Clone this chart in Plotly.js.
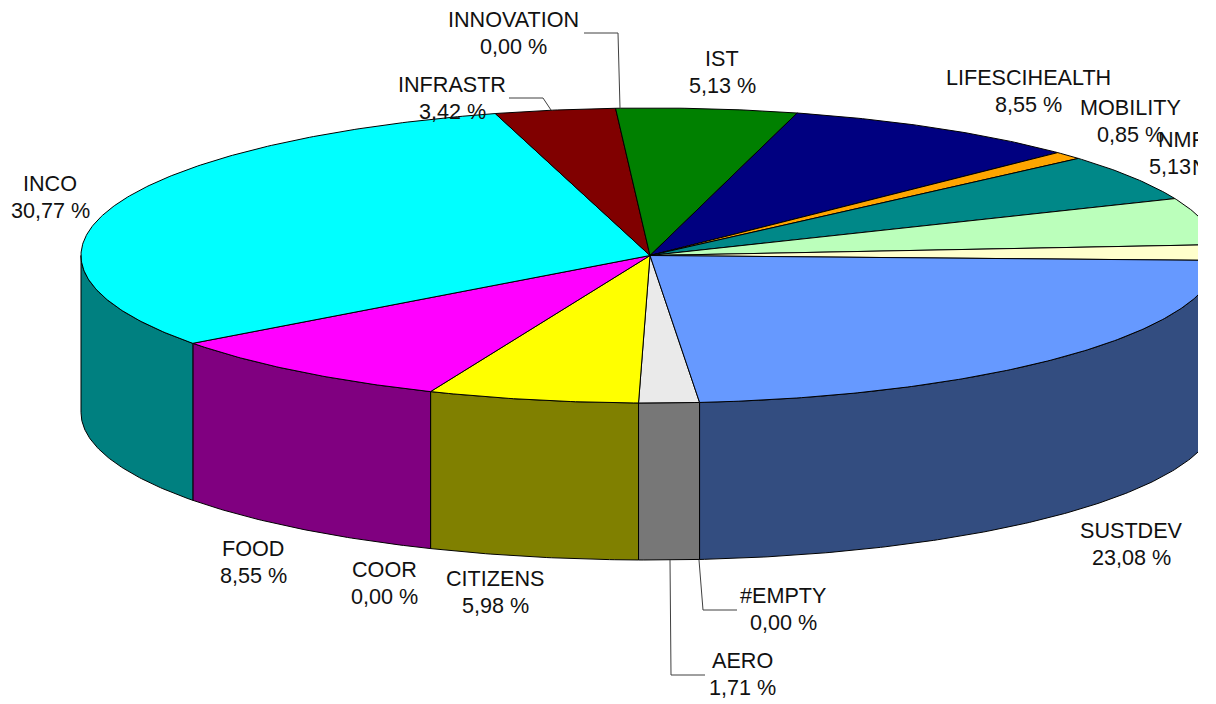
<!DOCTYPE html>
<html>
<head>
<meta charset="utf-8">
<script src="https://cdn.plot.ly/plotly-3.0.1.min.js"></script>
<style>html,body{margin:0;padding:0;background:#fff}#chart{width:1198px;height:704px;overflow:hidden}</style>
</head>
<body>
<div id="chart"></div>
<script>
// Data (order as drawn, clockwise)
const categories = ['#EMPTY','AERO','CITIZENS','COOR','FOOD','INCO','INFRASTR','INNOVATION','IST','LIFESCIHEALTH','MOBILITY','NMP','N','','SUSTDEV'];
const values = [0,1.71,5.98,0,8.55,30.77,3.42,0,5.13,8.55,0.85,5.13,5.13,1.71,23.08];
const valueLabels = ['0,00 %','1,71 %','5,98 %','0,00 %','8,55 %','30,77 %','3,42 %','0,00 %','5,13 %','8,55 %','0,85 %','5,13 %','','','23,08 %'];
const topColors = ['#eaeaea','#eaeaea','#ffff00','#ff00ff','#ff00ff','#00ffff','#800000','#800000','#008000','#000080','#ffa500','#008888','#bbffbb','#ffffcc','#6699ff'];
const sideColors = ['#777777','#777777','#808000','#800080','#800080','#008080','#400000','#400000','#004000','#000040','#805300','#004444','#5e805e','#808066','#334d80'];

// Label placement (block centre, pixels)
const labelX = [783,742,495,384,253,50,452,513,722,1028,1130,1182,1192,null,1131];
const labelY = [609,674,592,583,562,197,98,33,72,91,121,153,167,null,544];

// Leader lines
const leaderX = [[699,703,737],[670,671,705],[584,618,620],[509,543,551]];
const leaderY = [[560,610,610],[560,675,675],[33,33,108],[98,98,110]];

// Pie geometry
const cx = 650, cy = 255.5, rx = 569, ry = 147.5, depth = 157, startDeg = 175;
const lineGap = 27;
const total = values.reduce((a,b)=>a+b,0);
const rad = d => d*Math.PI/180;
const px = d => cx + rx*Math.sin(rad(d));
const py = d => cy - ry*Math.cos(rad(d));

function arc(a,b){ const n=Math.max(2,Math.ceil(Math.abs(b-a)*2)); const out=[]; for(let i=0;i<=n;i++){out.push(a+(b-a)*i/n);} return out; }

const sideTraces = [], topTraces = [];
let ang = startDeg;
values.forEach((v,i)=>{
  if(v<=0) return;
  const a = ang, b = ang + v/total*360;
  ang = b;
  const outline = {color:'#000',width:1};
  const t = arc(a,b);
  topTraces.push({type:'scatter',mode:'lines',fill:'toself',fillcolor:topColors[i],line:outline,hoverinfo:'skip',
    x:[cx].concat(t.map(px),[cx]), y:[cy].concat(t.map(py),[cy])});
  // side wall: the part of the rim on the near half (90..270 deg)
  const ranges=[[a,b],[a+360,b+360],[a-360,b-360]];
  ranges.forEach(r=>{
    const s=Math.max(r[0],90), e=Math.min(r[1],270);
    if(e>s){
      const w=arc(s,e);
      sideTraces.push({type:'scatter',mode:'lines',fill:'toself',fillcolor:sideColors[i],line:outline,hoverinfo:'skip',
        x:w.map(px).concat(w.slice().reverse().map(px),[px(s)]),
        y:w.map(py).concat(w.slice().reverse().map(d=>py(d)+depth),[py(s)])});
    }
  });
});
const leaderTraces = leaderX.map((x,i)=>({type:'scatter',mode:'lines',x:x,y:leaderY[i],line:{color:'#404040',width:1},hoverinfo:'skip'}));

const font = {family:'"Liberation Sans", Arial, sans-serif',size:21.6,color:'#111'};
const annotations = [];
function addText(x,y,text,anchor){
  annotations.push({x:x,y:y,xref:'x',yref:'y',text:text,showarrow:false,font:font,
    xanchor:anchor,yanchor:'middle',align:'center',borderpad:0,borderwidth:0});
}
categories.forEach((c,i)=>{
  if(labelX[i]===null) return;
  if(valueLabels[i]){
    addText(labelX[i],labelY[i]-lineGap/2,c,'center');
    addText(labelX[i],labelY[i]+lineGap/2,valueLabels[i],'center');
  } else {
    addText(labelX[i],labelY[i],c,'left');
  }
});

Plotly.newPlot('chart', sideTraces.concat(topTraces,leaderTraces), {
  width:1198,height:704,margin:{l:0,r:0,t:0,b:0,pad:0},showlegend:false,
  paper_bgcolor:'#fff',plot_bgcolor:'#fff',
  xaxis:{range:[0,1198],visible:false,fixedrange:true},
  yaxis:{range:[704,0],visible:false,fixedrange:true},
  annotations:annotations,
  hovermode:false
},{displayModeBar:false,staticPlot:true});
</script>
</body>
</html>
